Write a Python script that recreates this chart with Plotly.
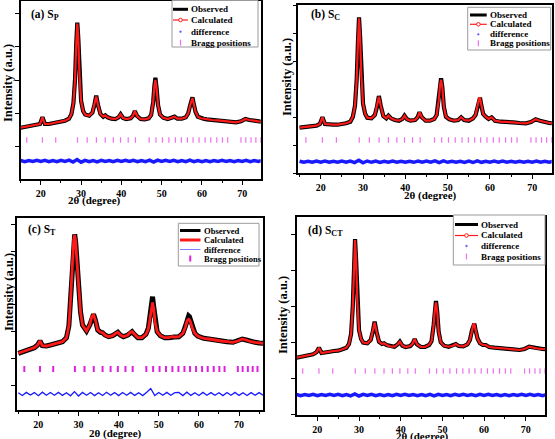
import plotly.graph_objects as go

# ---------------- data ----------------
TT = [15, 16, 17, 18, 19, 19.8, 20.4, 21, 22, 23,
      24, 25, 26, 27, 27.6, 28.1, 28.5, 28.8, 29.05, 29.3,
      29.6, 30, 30.5, 31, 32, 32.8, 33.3, 33.75, 34.2, 34.8,
      35.5, 36.0, 36.6, 37.5, 38.5, 39.3, 39.8, 40.4, 41.2, 42.3,
      42.9, 43.35, 43.9, 44.8, 45.8, 46.8, 47.4, 47.9, 48.2, 48.45,
      48.75, 49.1, 49.6, 50.4, 51.5, 52.5, 53.2, 53.9, 55, 56,
      56.6, 57.1, 57.45, 57.65, 57.95, 58.4, 59, 59.7, 60.4, 61.2,
      62.5, 64, 65.5, 67, 68.5, 69.7, 70.8, 71.8, 73, 74,
      75, 76]

OBS_A = [333, 340, 343, 350, 357, 370, 437, 370, 370, 377,
         383, 390, 403, 423, 470, 580, 820, 1180, 1383, 1230,
         860, 600, 500, 465, 453, 483, 560, 653, 560, 470,
         443, 457, 437, 423, 420, 437, 467, 430, 420, 427,
         453, 500, 450, 420, 417, 427, 460, 590, 750, 833,
         727, 560, 465, 433, 420, 430, 443, 423, 423, 437,
         477, 560, 633, 637, 577, 493, 443, 427, 423, 417,
         410, 407, 400, 390, 387, 397, 420, 410, 400, 397,
         393, 390]
CALC_A = [333, 340, 343, 350, 357, 370, 437, 370, 370, 377,
          383, 390, 403, 423, 470, 580, 820, 1180, 1375, 1230,
          860, 600, 500, 465, 453, 483, 560, 645, 560, 470,
          443, 457, 437, 423, 420, 437, 467, 430, 420, 427,
          453, 500, 450, 420, 417, 427, 460, 590, 745, 810,
          727, 560, 465, 433, 420, 430, 443, 423, 423, 437,
          477, 560, 628, 630, 577, 493, 443, 427, 423, 417,
          410, 407, 400, 390, 387, 397, 420, 410, 400, 397,
          393, 390]

OBS_B = [340, 344, 347, 354, 360, 377, 444, 377, 370, 370,
         370, 374, 384, 400, 450, 560, 820, 1200, 1444, 1260,
         860, 580, 480, 440, 434, 467, 550, 657, 557, 457,
         434, 460, 434, 417, 410, 427, 460, 424, 410, 417,
         444, 494, 444, 410, 410, 427, 467, 610, 767, 834,
         744, 550, 450, 424, 410, 417, 444, 417, 410, 434,
         467, 567, 640, 640, 567, 477, 450, 427, 444, 410,
         400, 400, 394, 387, 384, 397, 424, 410, 394, 387,
         384, 384]
CALC_B = [340, 344, 347, 354, 360, 377, 444, 377, 370, 370,
          370, 374, 384, 400, 450, 560, 820, 1200, 1435, 1260,
          860, 580, 480, 440, 434, 467, 550, 650, 557, 457,
          434, 460, 434, 417, 410, 427, 460, 424, 410, 417,
          444, 494, 444, 410, 410, 427, 467, 610, 760, 820,
          744, 550, 450, 424, 410, 417, 444, 417, 410, 434,
          467, 567, 635, 635, 567, 477, 450, 427, 444, 410,
          400, 400, 394, 387, 384, 397, 424, 410, 394, 387,
          384, 384]

OBS_C = [407, 423, 440, 450, 463, 490, 530, 483, 480, 490,
         497, 507, 523, 563, 680, 1000, 1350, 1540, 1597, 1520,
         1330, 1080, 820, 690, 630, 690, 773, 797, 740, 640,
         617, 613, 590, 573, 583, 607, 617, 590, 573, 590,
         617, 623, 597, 563, 563, 597, 657, 790, 930, 973,
         873, 723, 623, 583, 563, 563, 573, 570, 573, 607,
         673, 750, 780, 773, 730, 663, 607, 580, 567, 557,
         550, 537, 530, 523, 517, 530, 550, 540, 523, 517,
         510, 507]
CALC_C = [407, 423, 440, 450, 463, 490, 530, 483, 480, 490,
          497, 507, 523, 563, 680, 1000, 1350, 1540, 1590, 1520,
          1330, 1080, 820, 690, 630, 690, 773, 790, 740, 640,
          617, 613, 590, 573, 583, 607, 617, 590, 573, 590,
          617, 623, 597, 563, 563, 597, 650, 770, 880, 915,
          850, 715, 623, 583, 563, 563, 573, 570, 573, 607,
          665, 735, 748, 742, 715, 655, 607, 580, 567, 557,
          550, 537, 530, 523, 517, 530, 550, 540, 523, 517,
          510, 507]

OBS_D = [373, 383, 393, 400, 407, 427, 473, 420, 423, 433,
         440, 443, 457, 473, 510, 610, 880, 1300, 1560, 1360,
         930, 650, 560, 525, 517, 550, 633, 733, 633, 533,
         510, 517, 500, 487, 483, 507, 533, 493, 480, 490,
         517, 560, 507, 480, 480, 500, 540, 700, 860, 940,
         833, 633, 527, 493, 483, 493, 510, 490, 487, 507,
         550, 650, 713, 713, 650, 567, 517, 500, 500, 480,
         473, 470, 467, 457, 450, 460, 483, 473, 463, 460,
         457, 453]
CALC_D = [373, 383, 393, 400, 407, 427, 473, 420, 423, 433,
          440, 443, 457, 473, 510, 610, 880, 1300, 1550, 1360,
          930, 650, 560, 525, 517, 550, 633, 725, 633, 533,
          510, 517, 500, 487, 483, 507, 533, 493, 480, 490,
          517, 560, 507, 480, 480, 500, 540, 700, 855, 925,
          833, 633, 527, 493, 483, 493, 510, 490, 487, 507,
          550, 650, 708, 708, 650, 567, 517, 500, 500, 480,
          473, 470, 467, 457, 450, 460, 483, 473, 463, 460,
          457, 453]

DIFF_TT = [15, 16, 17, 18, 19, 20, 21, 22, 23, 24,
           25, 26, 27, 28, 29, 30, 31, 32, 33, 34,
           35, 36, 37, 38, 39, 40, 41, 42, 43, 44,
           45, 46, 47, 48, 49, 50, 51, 52, 53, 54,
           55, 56, 57, 58, 59, 60, 61, 62, 63, 64,
           65, 66, 67, 68, 69, 70, 71, 72, 73, 74,
           75, 76]
DIFF_A = [5, -6, 4, -5, 7, -4, 6, -7, 5, -6,
          6, -5, 8, -10, 14, -12, 7, -6, 5, -8,
          6, -5, 5, -7, 6, -5, 6, -5, 7, -6,
          5, -6, 8, -11, 9, -5, 6, -5, 6, -7,
          5, -7, 9, -6, 5, -6, 5, -6, 5, -4,
          6, -5, 5, -6, 5, -5, 6, -6, 4, -5,
          6, -5]
DIFF_B = [5, -6, 5, -5, 7, -5, 6, -6, 5, -5,
          6, -5, 7, -9, 15, -11, 7, -6, 6, -7,
          5, -6, 6, -5, 5, -6, 5, -6, 7, -5,
          6, -5, 8, -10, 8, -6, 5, -6, 5, -7,
          6, -8, 9, -6, 5, -5, 6, -5, 6, -5,
          5, -6, 5, -6, 5, -5, 6, -5, 5, -6,
          5, -5]
DIFF_C = [12, -15, 16, -10, 14, -17, 18, -13, 15, -12,
          16, -14, 13, -18, 24, -20, 16, -13, 15, -16,
          13, -15, 17, -12, 14, -16, 15, -13, 16, -14,
          13, -16, 18, 55, -16, 15, -13, 16, -12, 14,
          15, -16, 18, -14, 13, -15, 16, -13, 14, -12,
          13, -16, 15, -13, 16, -14, 13, -15, 14, -12,
          14, -13]
DIFF_D = [5, -6, 5, -5, 6, -6, 5, -5, 7, -5,
          6, -6, 5, -8, 11, -10, 6, -5, 6, -6,
          5, -6, 5, -7, 6, -5, 6, -5, 5, -6,
          5, -6, 7, -8, 6, -5, 5, -6, 6, -5,
          6, -5, 5, -6, 6, -5, 7, -5, 5, -6,
          5, -6, 5, -5, 6, -5, 6, -5, 5, -6,
          5, -5]

BRAGG = [16.5, 20.4, 23.7, 29.1, 31.5, 33.8, 36.0, 38.0, 39.8, 41.7,
         43.5, 46.9, 48.6, 50.2, 51.8, 53.4, 54.9, 56.4, 57.8, 59.3,
         60.8, 62.2, 63.7, 65.1, 66.4, 69.7, 70.9, 72.2, 73.4, 74.6]
BRAGG_LEVEL = {"a": 210, "b": 217, "c": 250, "d": 240}

LEGEND_LABELS = ["Observed", "Calculated", "difference", "Bragg positions"]
PANEL_LABELS = {"a": "(a) S<sub>P</sub>", "b": "(b) S<sub>C</sub>",
                "c": "(c) S<sub>T</sub>", "d": "(d) S<sub>CT</sub>"}
X_TITLE = "2θ (degree)"
Y_TITLE = "Intensity (a.u.)"

SERIES = {
    "a": (OBS_A, CALC_A, DIFF_A),
    "b": (OBS_B, CALC_B, DIFF_B),
    "c": (OBS_C, CALC_C, DIFF_C),
    "d": (OBS_D, CALC_D, DIFF_D),
}

# ---------------- layout geometry (pixels) ----------------
W, H = 555, 439
SERIF = "Liberation Serif"


def px(x):
    return x / W


def py(y):
    return 1 - y / H


GEOM = {
    "a": dict(x0=20.7, x1=260.7, y0=1.0, y1=179.3, xr=[15.0, 74.6], yr=[-183, 1600],
              tick0=143, dtick=333, lab=(29, 15), ytl=(8, 83), xtl=(94, 200.5),
              leg=dict(box=(172, 258, 0.5, 47), rows=(9.3, 20, 31.7, 42.7), sx=(173, 188), tx=189, fs=9)),
    "b": dict(x0=298.3, x1=551.7, y0=5.0, y1=173.3, xr=[14.7, 74.6], yr=[-116, 1567],
              tick0=167, dtick=280, lab=(309, 15), ytl=(287, 77), xtl=(430, 195.5),
              leg=dict(box=(467.7, 550.7, 7.3, 50), rows=(15, 24.3, 34.3, 43.3), sx=(470, 486.7), tx=487.5, fs=9)),
    "c": dict(x0=16.7, x1=263.3, y0=218.3, y1=410.0, xr=[14.6, 76.05], yr=[-160, 1757],
              tick0=90, dtick=267, lab=(26, 230), ytl=(9, 292), xtl=(115, 433.5),
              leg=dict(box=(178.3, 259, 223.3, 266), rows=(230.5, 240, 249.5, 258.5), sx=(180, 200.5), tx=201.5, fs=8.6)),
    "d": dict(x0=296.7, x1=545.0, y0=216.7, y1=415.0, xr=[15.06, 74.6], yr=[-200, 1783],
              tick0=167, dtick=360, lab=(306, 231), ytl=(283, 315), xtl=(422, 436.5),
              leg=dict(box=(453.3, 545, 215, 265), rows=(224.5, 235.5, 246, 256.5), sx=(455, 478), tx=479.5, fs=9)),
}

fig = go.Figure()
shapes = []
annotations = []

for i, key in enumerate(["a", "b", "c", "d"]):
    g = GEOM[key]
    obs, calc, diff = SERIES[key]
    n = "" if i == 0 else str(i + 1)
    xa, ya = "x" + n, "y" + n
    is_c = key == "c"
    bragg_col = "#e020e0" if is_c else "#f070f0"

    fig.add_trace(go.Scatter(x=TT, y=obs, mode="lines", xaxis=xa, yaxis=ya,
                             line=dict(color="black", width=5 if is_c else 4.2),
                             name="Observed", showlegend=False))
    fig.add_trace(go.Scatter(x=TT, y=calc, mode="lines", xaxis=xa, yaxis=ya,
                             line=dict(color="#ff1a1a", width=2.8 if is_c else 2.2),
                             name="Calculated", showlegend=False))
    fig.add_trace(go.Scatter(x=DIFF_TT, y=diff, mode="lines", xaxis=xa, yaxis=ya,
                             line=dict(color="#1a1aff", width=1.3 if is_c else 3.5),
                             name="difference", showlegend=False))
    fig.add_trace(go.Scatter(x=BRAGG, y=[BRAGG_LEVEL[key]] * len(BRAGG), mode="markers",
                             xaxis=xa, yaxis=ya,
                             marker=dict(symbol="line-ns-open", size=4.2 if is_c else 3.8,
                                         color=bragg_col,
                                         line=dict(width=2 if is_c else 1.2, color=bragg_col)),
                             name="Bragg positions", showlegend=False))

    fig.update_layout(**{
        "xaxis" + n: dict(domain=[px(g["x0"]), px(g["x1"])], range=g["xr"], anchor=ya,
                          showline=True, linecolor="black", linewidth=1.6, mirror=True,
                          ticks="outside", ticklen=4, tickwidth=1.3, tickcolor="black",
                          tick0=0, dtick=10, showgrid=False, zeroline=False,
                          tickfont=dict(family=SERIF, size=10, color="black", weight="bold"),
                          minor=dict(dtick=5, tick0=0, ticks="outside", ticklen=2,
                                     tickwidth=1, tickcolor="black", showgrid=False)),
        "yaxis" + n: dict(domain=[py(g["y1"]), py(g["y0"])], range=g["yr"], anchor=xa,
                          showline=True, linecolor="black", linewidth=1.6, mirror=True,
                          ticks="outside", ticklen=4, tickwidth=1.3, tickcolor="black",
                          tick0=g["tick0"], dtick=g["dtick"], showticklabels=False,
                          showgrid=False, zeroline=False),
    })

    # panel label
    annotations.append(dict(text="<b>" + PANEL_LABELS[key] + "</b>", xref="paper", yref="paper",
                            x=px(g["lab"][0]), y=py(g["lab"][1]), xanchor="left", yanchor="middle",
                            showarrow=False, font=dict(family=SERIF, size=11.5, color="black")))
    # axis titles
    annotations.append(dict(text="<b>" + Y_TITLE + "</b>", xref="paper", yref="paper",
                            x=px(g["ytl"][0]), y=py(g["ytl"][1]), xanchor="center", yanchor="middle",
                            textangle=-90, showarrow=False,
                            font=dict(family=SERIF, size=12.5, color="black")))
    annotations.append(dict(text="<b>" + X_TITLE + "</b>", xref="paper", yref="paper",
                            x=px(g["xtl"][0]), y=py(g["xtl"][1]), xanchor="center", yanchor="middle",
                            showarrow=False, font=dict(family=SERIF, size=11, color="black")))

    # legend box (drawn manually to match the compact original)
    L = g["leg"]
    bx0, bx1, by0, by1 = L["box"]
    shapes.append(dict(type="rect", xref="paper", yref="paper", layer="above",
                       x0=px(bx0), x1=px(bx1), y0=py(by1), y1=py(by0),
                       line=dict(color="#9a9a9a", width=1), fillcolor="white"))
    sx0, sx1 = L["sx"]
    sm = (sx0 + sx1) / 2
    r0, r1, r2, r3 = L["rows"]
    shapes.append(dict(type="line", xref="paper", yref="paper", layer="above",
                       x0=px(sx0), x1=px(sx1), y0=py(r0), y1=py(r0),
                       line=dict(color="black", width=3)))
    shapes.append(dict(type="line", xref="paper", yref="paper", layer="above",
                       x0=px(sx0), x1=px(sx1), y0=py(r1), y1=py(r1),
                       line=dict(color="#ff1a1a", width=3 if is_c else 1.2)))
    if not is_c:
        shapes.append(dict(type="circle", xref="paper", yref="paper", layer="above",
                           x0=px(sm - 1.8), x1=px(sm + 1.8), y0=py(r1 + 1.8), y1=py(r1 - 1.8),
                           line=dict(color="#ff1a1a", width=1), fillcolor="white"))
        shapes.append(dict(type="circle", xref="paper", yref="paper", layer="above",
                           x0=px(sm - 0.9), x1=px(sm + 0.9), y0=py(r2 + 0.9), y1=py(r2 - 0.9),
                           line=dict(color="#6060ff", width=0.5), fillcolor="#6060ff"))
    else:
        shapes.append(dict(type="line", xref="paper", yref="paper", layer="above",
                           x0=px(sx0), x1=px(sx1), y0=py(r2), y1=py(r2),
                           line=dict(color="#8080ff", width=1)))
    shapes.append(dict(type="line", xref="paper", yref="paper", layer="above",
                       x0=px(sm), x1=px(sm), y0=py(r3 + 3), y1=py(r3 - 3),
                       line=dict(color=bragg_col, width=2 if is_c else 1.2)))
    for label, yy in zip(LEGEND_LABELS, L["rows"]):
        annotations.append(dict(text="<b>" + label + "</b>", xref="paper", yref="paper",
                                x=px(L["tx"]), y=py(yy), xanchor="left", yanchor="middle",
                                showarrow=False, font=dict(family=SERIF, size=L["fs"], color="black")))

fig.update_layout(width=W, height=H, margin=dict(l=0, r=0, t=0, b=0),
                  paper_bgcolor="white", plot_bgcolor="white", showlegend=False,
                  shapes=shapes, annotations=annotations)

fig.write_html("out.html")
